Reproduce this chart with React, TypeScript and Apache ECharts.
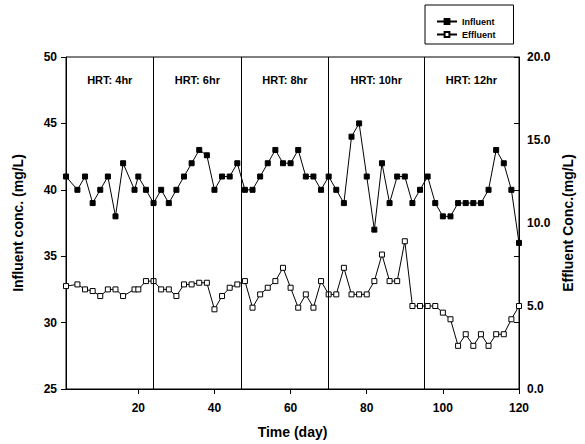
import React, { useEffect, useRef } from "react";
import * as echarts from "echarts";

const FONT = "'Liberation Sans', Arial, sans-serif";

const days = [1, 4, 6, 8, 10, 12, 14, 16, 19, 20, 22, 24,
  26, 28, 30, 32, 34, 36, 38, 40, 42, 44, 46,
  48, 50, 52, 54, 56, 58, 60, 62, 64, 66, 68, 70,
  72, 74, 76, 78, 80, 82, 84, 86, 88, 90, 92, 94, 96,
  98, 100, 102, 104, 106, 108, 110, 112, 114, 116, 118, 120];

const influent = [41, 40, 41, 39, 40, 41, 38, 42, 40, 41, 40, 39,
  40, 39, 40, 41, 42, 43, 42.6, 40, 41, 41, 42,
  40, 40, 41, 42, 43, 42, 42, 43, 41, 41, 40, 41,
  40, 39, 44, 45, 41, 37, 42, 39, 41, 41, 39, 40, 41,
  39, 38, 38, 39, 39, 39, 39, 40, 43, 42, 40, 36];

const effluent = [6.2, 6.3, 6.0, 5.9, 5.6, 6.0, 6.0, 5.6, 6.0, 6.0, 6.5, 6.5,
  6.0, 6.0, 5.6, 6.3, 6.3, 6.4, 6.4, 4.8, 5.6, 6.1, 6.3,
  6.5, 4.9, 5.7, 6.1, 6.5, 7.3, 6.1, 4.9, 5.7, 4.9, 6.5, 5.7,
  5.7, 7.3, 5.7, 5.7, 5.7, 6.5, 8.1, 6.5, 6.5, 8.9, 5.0, 5.0, 5.0,
  5.0, 4.6, 4.2, 2.6, 3.3, 2.6, 3.3, 2.6, 3.3, 3.3, 4.2, 5.0];

const hrtBounds = [1, 24, 47, 70, 95, 120];
const hrtLabels = ["HRT: 4hr", "HRT: 6hr", "HRT: 8hr", "HRT: 10hr", "HRT: 12hr"];

const xTicks = [20, 40, 60, 80, 100, 120];
const rightTicks = [0, 4, 8, 12, 16, 20];

export default function App() {
  const ref = useRef<HTMLDivElement>(null);
  useEffect(() => {
    if (!ref.current) return;
    const chart = echarts.init(ref.current, null, { renderer: "svg" });
    const infData = days.map((d, i) => [d, influent[i]]);
    const effData = days.map((d, i) => [d, effluent[i]]);
    const dividers = hrtBounds.slice(1, -1).map((d) => ({ xAxis: d }));
    const areas = hrtLabels.map((name, i) => [
      { xAxis: hrtBounds[i], name },
      { xAxis: hrtBounds[i + 1] },
    ]);
    const axisText = { color: "#000", fontFamily: FONT, fontWeight: "bold" as const, fontSize: 12 };
    const nameText = { color: "#000", fontFamily: FONT, fontWeight: "bold" as const, fontSize: 14 };
    chart.setOption({
      animation: false,
      textStyle: { fontFamily: FONT },
      grid: { left: 66, right: 66, top: 57, bottom: 54, show: true, borderColor: "#000", borderWidth: 1 },
      legend: {
        data: ["Influent", "Effluent"],
        orient: "vertical",
        left: 425,
        top: 5,
        itemWidth: 20,
        itemHeight: 6,
        itemGap: 4,
        padding: [12, 18, 5, 11],
        borderColor: "#000",
        borderWidth: 1,
        textStyle: { fontFamily: FONT, fontSize: 9, fontWeight: "bold", color: "#000" },
      },
      xAxis: {
        type: "value",
        min: 1,
        max: 120,
        name: "Time (day)",
        nameLocation: "middle",
        nameGap: 36,
        nameTextStyle: nameText,
        axisLine: { show: true, lineStyle: { color: "#000", width: 1 } },
        axisTick: { show: true, length: 5, customValues: xTicks, lineStyle: { color: "#000" } },
        axisLabel: { ...axisText, customValues: xTicks, margin: 13 },
        splitLine: { show: false },
      },
      yAxis: [
        {
          type: "value",
          min: 25,
          max: 50,
          interval: 5,
          position: "left",
          name: "Influent conc. (mg/L)",
          nameLocation: "middle",
          nameRotate: 90,
          nameGap: 41,
          nameTextStyle: nameText,
          axisLine: { show: true, lineStyle: { color: "#000", width: 1 } },
          axisTick: { show: true, length: 5, lineStyle: { color: "#000" } },
          axisLabel: { ...axisText, margin: 9 },
          splitLine: { show: false },
        },
        {
          type: "value",
          min: 0,
          max: 20,
          interval: 5,
          position: "right",
          name: "Effluent Conc.(mg/L)",
          nameLocation: "middle",
          nameRotate: 90,
          nameGap: 40,
          nameTextStyle: nameText,
          axisLine: { show: true, lineStyle: { color: "#000", width: 1 } },
          axisTick: { show: true, inside: true, length: 5, customValues: rightTicks, lineStyle: { color: "#000" } },
          axisLabel: { ...axisText, margin: 8, formatter: (v: number) => v.toFixed(1) },
          splitLine: { show: false },
        },
      ],
      series: [
        {
          name: "Influent",
          type: "line",
          yAxisIndex: 0,
          data: infData,
          symbol: "rect",
          symbolSize: 5,
          lineStyle: { color: "#000", width: 1 },
          itemStyle: { color: "#000", borderColor: "#000", borderWidth: 1 },
          markLine: {
            silent: true,
            symbol: "none",
            label: { show: false },
            lineStyle: { color: "#000", width: 1, type: "solid" },
            data: dividers,
          },
          markArea: {
            silent: true,
            itemStyle: { color: "rgba(0,0,0,0)" },
            label: {
              show: true,
              position: "insideTop",
              distance: 17,
              color: "#000",
              fontFamily: FONT,
              fontWeight: "bold",
              fontSize: 11,
            },
            data: areas,
          },
          z: 3,
        },
        {
          name: "Effluent",
          type: "line",
          yAxisIndex: 1,
          data: effData,
          symbol: "rect",
          symbolSize: 5,
          lineStyle: { color: "#000", width: 1 },
          itemStyle: { color: "#fff", borderColor: "#000", borderWidth: 1 },
          z: 3,
        },
      ],
    });
    return () => chart.dispose();
  }, []);
  return <div ref={ref} style={{ width: 585, height: 444, position: "absolute", left: 0, top: 0 }} />;
}
